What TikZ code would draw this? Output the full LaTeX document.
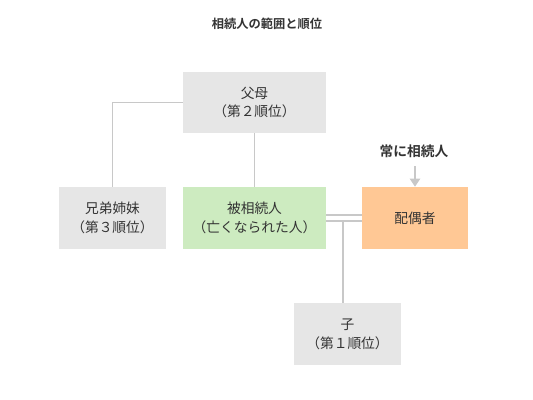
\documentclass[tikz,border=0pt]{standalone}
\usepackage{fontspec}
\setmainfont{Noto Sans CJK JP}[BoldFont={Noto Sans CJK JP Bold}]
\usetikzlibrary{arrows.meta,calc}
\definecolor{boxgray}{HTML}{E6E6E6}
\definecolor{boxgreen}{HTML}{CDEBC0}
\definecolor{boxorange}{HTML}{FFC895}
\definecolor{linegray}{HTML}{C8C8C8}
\definecolor{txt}{HTML}{333333}
\tikzset{
  box/.style={rectangle, inner sep=0pt, align=center, text=txt,
    font=\fontsize{10.3}{14.2}\selectfont, minimum height=46.5pt},
  wide/.style={box, minimum width=107.25pt},
  narrow/.style={box, minimum width=80.25pt},
  conn/.style={draw=linegray, line width=1.4pt},
  heading/.style={text=txt, font=\bfseries\fontsize{9.2}{11}\selectfont},
}
\begin{document}
\begin{tikzpicture}[x=0.75pt,y=-0.75pt]
\useasboundingbox (0,0) rectangle (533,400);
\node[heading] (title) at (267,24) {相続人の範囲と順位};
\node[wide, fill=boxgray, minimum height=45.75pt] (par) at (254.5,102.5) {父母\\（第２順位）};
\node[narrow, fill=boxgray] (sib) at (112.5,218) {兄弟姉妹\\（第３順位）};
\node[wide, fill=boxgreen] (dec) at (254.5,218) {被相続人\\（亡くなられた人）};
\node[narrow, fill=boxorange, minimum width=79.5pt] (sp) at (415,218) {配偶者};
\node[narrow, fill=boxgray] (ch) at (347.5,334) {子\\（第１順位）};
\node[heading, font=\bfseries\fontsize{10.3}{12}\selectfont] (always) at (414,151) {常に相続人};
% connectors
\draw[conn] (par.west) -| (sib.north);
\draw[conn] (par.south) -- (dec.north);
\coordinate (d1) at ($(dec.east)+(0,-3)$);
\coordinate (d2) at ($(dec.east)+(0,3)$);
\coordinate (s1) at ($(sp.west)+(0,-3)$);
\coordinate (s2) at ($(sp.west)+(0,3)$);
\draw[conn] (d1) -- (s1);
\draw[conn] (d2) -- (s2);
\coordinate (j) at (343,221);
\draw[conn] (j) -- (j |- ch.north);
\draw[conn, -{Triangle[width=7.5pt,length=6pt]}] ([yshift=-3pt]always.south -| sp.north) -- (sp.north);
\end{tikzpicture}
\end{document}
